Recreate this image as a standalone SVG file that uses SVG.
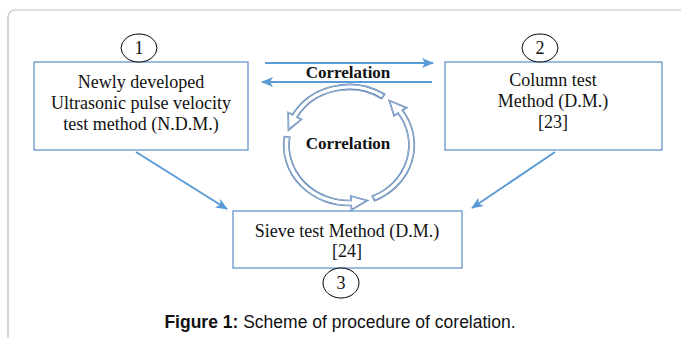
<svg xmlns="http://www.w3.org/2000/svg" width="681" height="338" viewBox="0 0 681 338">
<defs>
<marker id="ah" markerUnits="userSpaceOnUse" markerWidth="12" markerHeight="10" refX="11" refY="5" orient="auto">
<path d="M0,0 L12,5 L0,10 L3,5 z" fill="#5B9BD5"/>
</marker>
</defs>
<style>
.frame{fill:#fff;stroke:#BDBDBD;stroke-width:1.2}
.box{fill:#fff;stroke:#5B8DC9;stroke-width:1.2}
.num{fill:#fff;stroke:#000;stroke-width:1}
.t{font-family:"Liberation Serif","Times New Roman",serif;font-size:18px;fill:#111;text-anchor:middle}
.b{font-family:"Liberation Serif","Times New Roman",serif;font-size:17px;font-weight:bold;fill:#111;text-anchor:middle}
.ln{stroke:#5B9BD5;stroke-width:2;fill:none;marker-end:url(#ah)}
.cyc{fill:#fff;stroke:#3C6CA6;stroke-width:1.6;vector-effect:non-scaling-stroke}
.cyc2{fill:none;stroke:#fff;stroke-width:0.5;vector-effect:non-scaling-stroke}
.cap{font-family:"Liberation Sans",Arial,sans-serif;font-size:17.5px;fill:#111;text-anchor:middle}
</style>
<rect class="frame" x="8" y="10" width="700" height="400" rx="7"/>
<g id="connectors">
<line class="ln" x1="265" y1="63" x2="433" y2="63"/>
<line class="ln" x1="432" y1="82" x2="262" y2="82"/>
<line class="ln" x1="136" y1="152" x2="227" y2="209"/>
<line class="ln" x1="555" y1="152" x2="472" y2="208"/>
<text class="b" x="348" y="78">Correlation</text>
<g id="cycle" transform="translate(349,145) scale(1.08,1)">
<path id="c1" class="cyc" d="M32.95,-50.74 A60.5,60.5 0 0 0 -52.39,-30.25 L-56.29,-32.5 L-56.02,-15.01 L-44.17,-25.5 L-48.06,-27.75 A55.5,55.5 0 0 1 30.23,-46.55 Z"/>
<path class="cyc2" d="M32.95,-50.74 A60.5,60.5 0 0 0 -52.39,-30.25 L-56.29,-32.5 L-56.02,-15.01 L-44.17,-25.5 L-48.06,-27.75 A55.5,55.5 0 0 1 30.23,-46.55 Z"/>
<path id="c2" class="cyc" d="M-59.91,-8.42 A60.5,60.5 0 0 0 2.11,60.46 L2.27,64.96 L16.96,55.47 L1.78,50.97 L1.94,55.47 A55.5,55.5 0 0 1 -54.96,-7.73 Z"/>
<path class="cyc2" d="M-59.91,-8.42 A60.5,60.5 0 0 0 2.11,60.46 L2.27,64.96 L16.96,55.47 L1.78,50.97 L1.94,55.47 A55.5,55.5 0 0 1 -54.96,-7.73 Z"/>
<path id="c3" class="cyc" d="M23.64,55.69 A60.5,60.5 0 0 0 49.56,-34.70 L53.25,-37.28 L37.28,-44.43 L41.78,-29.25 L45.46,-31.83 A55.5,55.5 0 0 1 21.68,51.09 Z"/>
<path class="cyc2" d="M23.64,55.69 A60.5,60.5 0 0 0 49.56,-34.70 L53.25,-37.28 L37.28,-44.43 L41.78,-29.25 L45.46,-31.83 A55.5,55.5 0 0 1 21.68,51.09 Z"/>
</g>
<text class="b" x="348" y="149">Correlation</text>
</g>
<g id="node1">
<rect class="box" x="34" y="62" width="214" height="88"/>
<text class="t" x="141" y="88">Newly developed</text>
<text class="t" x="141" y="109">Ultrasonic pulse velocity</text>
<text class="t" x="141" y="130">test method (N.D.M.)</text>
<ellipse class="num" cx="139" cy="48" rx="18" ry="14"/>
<text class="t" x="139" y="54">1</text>
</g>
<g id="node2">
<rect class="box" x="445" y="62" width="217" height="88"/>
<text class="t" x="553" y="86">Column test</text>
<text class="t" x="553" y="107">Method (D.M.)</text>
<text class="t" x="553" y="128">[23]</text>
<ellipse class="num" cx="540" cy="48" rx="18" ry="14"/>
<text class="t" x="540" y="54">2</text>
</g>
<g id="node3">
<rect class="box" x="233" y="211" width="229" height="57"/>
<text class="t" x="347" y="237">Sieve test Method (D.M.)</text>
<text class="t" x="347" y="257">[24]</text>
<ellipse class="num" cx="341" cy="283" rx="18" ry="15"/>
<text class="t" x="341" y="289">3</text>
</g>
<text class="cap" x="340" y="328"><tspan font-weight="bold">Figure 1:</tspan> Scheme of procedure of corelation.</text>
</svg>
